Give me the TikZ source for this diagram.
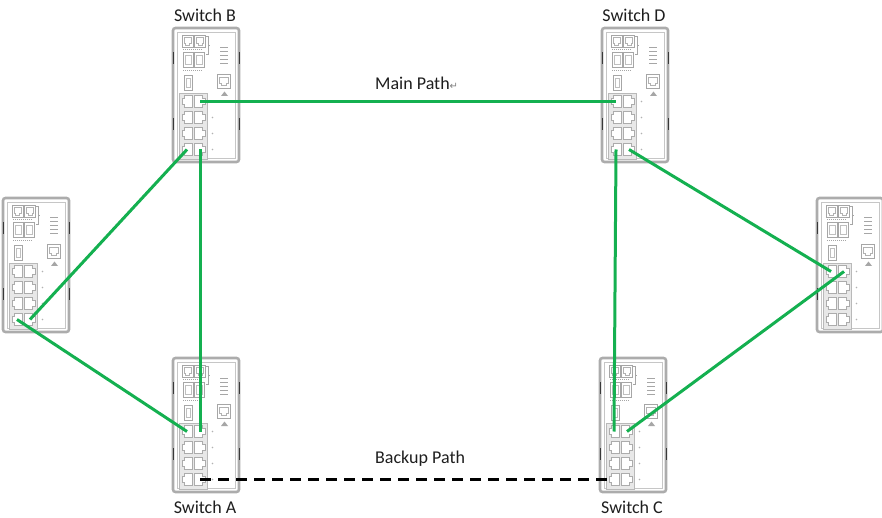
\documentclass[tikz,border=0pt]{standalone}
\usepackage{fontspec}
\setmainfont{Carlito}
\newfontfamily\symfont{DejaVu Sans}
\definecolor{linkgreen}{RGB}{20,176,80}
\definecolor{txt}{RGB}{30,30,30}
\tikzset{
  rjport/.pic={
    \draw[gray!65, line width=0.7, fill=white] (-2.5,-5.8) -- (5.2,-5.8) -- (5.2,5.8) -- (-2.5,5.8) -- (-2.5,3.2) -- (-5,3.2) -- (-5,-3.2) -- (-2.5,-3.2) -- cycle;
  },
  topport/.pic={
    \draw[gray!70, line width=0.9, fill=white] (-5.5,-6) rectangle (5.5,6);
    \draw[gray!60, line width=0.6] (-3.5,-4) -- (3.5,-4) -- (3.5,2) -- (2,2) -- (2,4) -- (-2,4) -- (-2,2) -- (-3.5,2) -- cycle;
  },
  switch/.pic={
    \draw[gray!65, line width=2.6, rounded corners=2.5, fill=white] (0,0) rectangle (66,134);
    \draw[gray!45, line width=0.6] (4,4) rectangle (62,130);
    \draw[gray!45!black, line width=1] (0,24) -- (0,36) (0,90) -- (0,102) (66,24) -- (66,36) (66,90) -- (66,102);
    \pic at (14.5,13) {topport};
    \pic at (27,13) {topport};
    \draw[gray!70, line width=0.6] (33,8) -- (35,8) -- (35,26) -- (33,26) (35,17) -- (37,17);
    \draw[gray!70, line width=0.5, dash pattern=on 1 off 1] (10,21.5) -- (30,21.5) (10,42) -- (30,42);
    \draw[gray!70, line width=0.8] (10,24) rectangle (20,39) (21,24) rectangle (31,39);
    \draw[gray!50, line width=0.5] (12,27) rectangle (18,36) (23,27) rectangle (29,36);
    \draw[gray!70, line width=0.8] (11,47) rectangle (19,62);
    \draw[gray!50, line width=0.5] (13,50) rectangle (17,59);
    \foreach \yy in {20,24,28,32,36} \draw[gray!70, line width=1] (47,\yy) -- (55,\yy);
    \draw[gray!70, line width=0.8] (44,46) rectangle (57,60);
    \draw[gray!60, line width=0.5] (46,49) -- (55,49) -- (55,55) -- (53,55) -- (53,57) -- (48,57) -- (48,55) -- (46,55) -- cycle;
    \fill[gray!70] (48,68) -- (51.5,63.5) -- (55,68) -- cycle;
    \draw[gray!55, line width=0.6, fill=gray!18] (6.5,65) rectangle (34.5,131);
    \foreach \r/\yy in {1/73.5,2/89.5,3/105.5,4/121.5} {
      \pic at (14,\yy) {rjport};
      \pic[xscale=-1] at (27,\yy) {rjport};
      \fill[gray!60] (39.5,\yy) circle (0.9);
      \coordinate (-p\r1) at (14,\yy);
      \coordinate (-p\r2) at (27,\yy);
    }
  },
  link/.style={draw=linkgreen, line width=3},
  backup/.style={draw=black, line width=3, dash pattern=on 11 off 7},
  lbl/.style={text=txt, font=\fontsize{18}{20}\selectfont, inner sep=0pt}
}
\begin{document}
\begin{tikzpicture}[x=1pt,y=-1pt]
\useasboundingbox (0,0) rectangle (882,518);
\pic (B) at (173,28) {switch};
\pic (D) at (602,28) {switch};
\pic (L) at (3,198) {switch};
\pic (R) at (817,198) {switch};
\pic (A) at (173,358) {switch};
\pic (C) at (600,358) {switch};
\node[lbl] (lB) at (205,15) {Switch B};
\node[lbl] (lD) at (634,15) {Switch D};
\node[lbl] (lA) at (205,507) {Switch A};
\node[lbl] (lC) at (632,507) {Switch C};
\node[lbl, anchor=west] (lmain) at (375,83) {Main Path{\symfont\fontsize{10}{10}\selectfont\color{gray}↵}};
\node[lbl, anchor=west] (lbackup) at (375,459) {Backup Path};
\draw[link] (B-p12) -- (D-p11);
\draw[link] (B-p41) -- (L-p42);
\draw[link] (L-p41) -- (A-p11);
\draw[link] (B-p42) -- (A-p12);
\draw[link] (D-p41) -- (C-p11);
\draw[link] (D-p42) -- (R-p11);
\draw[link] (R-p12) -- (C-p12);
\draw[backup] (A-p42) -- (C-p41);
\end{tikzpicture}
\end{document}
